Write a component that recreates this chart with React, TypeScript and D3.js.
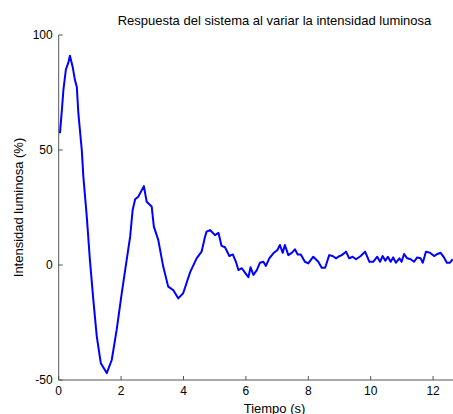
import React from "react";
import {scaleLinear, line} from "d3";

// time (s)
const tiempo = [
  0.04, 0.10, 0.15, 0.23, 0.31, 0.36, 0.45, 0.52, 0.58, 0.63, 0.68, 0.74, 0.79, 0.90, 1.00,
  1.11, 1.22, 1.35, 1.54, 1.70, 1.86, 2.02, 2.13, 2.29, 2.37, 2.45, 2.55, 2.73, 2.82, 2.98,
  3.05, 3.19, 3.35, 3.51, 3.67, 3.83, 3.99, 4.21, 4.42, 4.58, 4.69, 4.74, 4.85, 5.01, 5.12,
  5.22, 5.33, 5.47, 5.58, 5.68, 5.76, 5.87, 5.97, 6.08, 6.15, 6.24, 6.35, 6.45, 6.56, 6.64,
  6.75, 6.88, 7.01, 7.09, 7.18, 7.25, 7.36, 7.47, 7.57, 7.66, 7.76, 7.89, 8.00, 8.16, 8.32,
  8.43, 8.54, 8.67, 8.78, 8.89, 8.96, 9.07, 9.21, 9.31, 9.42, 9.53, 9.68, 9.82, 9.96, 10.08,
  10.21, 10.30, 10.38, 10.47, 10.55, 10.64, 10.72, 10.81, 10.92, 10.99, 11.07, 11.17, 11.28,
  11.39, 11.49, 11.60, 11.67, 11.77, 11.90, 12.03, 12.14, 12.24, 12.35, 12.44, 12.54, 12.63
];

// intensidad (%)
const intensidad = [
  57.3, 67, 76, 85, 88, 91, 86, 80.4, 77.5, 66, 58.7, 50, 38.4, 21, 2.2,
  -15.2, -31, -42.7, -47, -41.3, -28, -12.3, -2.2, 12.3, 23.9, 28.6, 29.7, 34.3, 27.5, 25.4,
  16.7, 10.9, -0.7, -9.4, -10.9, -14.5, -12.3, -3.2, 2.9, 5.8, 12.3, 14.5, 15.2, 13, 14,
  8.3, 7.7, 3.9, 4.6, 1.4, -2.2, -1.4, -3.3, -5.3, -1, -4.3, -2.2, 1, 1.4, -0.4,
  2.9, 5.1, 6.5, 8.7, 5.3, 8.7, 4.3, 5.3, 6.8, 4.6, 4.6, 1.4, 0.7, 3.6, 1.4,
  -1.2, -1.2, 4.3, 3.9, 2.9, 3.6, 4.3, 5.8, 2.9, 3.6, 2.5, 3.9, 5.8, 1.4, 1.4,
  3.6, 1.4, 3.9, 1.9, 3.6, 1.4, 3.3, 1, 2.9, 1.4, 4.8, 2.9, 2.5,
  1.4, 3.3, 2.9, 1, 5.8, 5.3, 3.9, 4.8, 5.3, 3.3, 1, 1, 2.5
];

const xTicks = [0, 2, 4, 6, 8, 10, 12];
const yTicks = [-50, 0, 50, 100];

const titulo = "Respuesta del sistema al variar la intensidad luminosa";
const xLabel = "Tiempo (s)";
const yLabel = "Intensidad luminosa (%)";

export default function App() {
  const width = 453;
  const height = 414;
  const left = 58.7, right = 453, top = 35, bottom = 380;

  const xScale = scaleLinear().domain([0, (right - left) / 31.2]).range([left, right]);
  const yScale = scaleLinear().domain([-50, 100]).range([bottom, top]);

  const data = tiempo.map((t, i) => ({t, v: intensidad[i]}));
  const path = line<{t: number, v: number}>()
    .x(d => xScale(d.t))
    .y(d => yScale(d.v))(data);

  const font = "'Liberation Sans', Arial, sans-serif";
  const axisColor = "#555";

  return (
    <svg width={width} height={height}
         style={{position: 'fixed', left: 0, top: 0, background: 'white', fontFamily: font}}>
      <rect width={width} height={height} fill="white"/>
      <text x={274.5} y={25.3} fontSize={13} textAnchor="middle" fill="black">{titulo}</text>

      {/* axes */}
      <line x1={left} x2={left} y1={top} y2={bottom} stroke={axisColor}/>
      <line x1={left} x2={right} y1={bottom} y2={bottom} stroke={axisColor}/>

      {yTicks.map(v => (
        <g key={v} transform={`translate(${left}, ${yScale(v)})`}>
          <line x2={4} stroke={axisColor}/>
          <text x={-6} dy="0.35em" fontSize={12} textAnchor="end" fill="black">{v}</text>
        </g>
      ))}
      {xTicks.map(v => (
        <g key={v} transform={`translate(${xScale(v)}, ${bottom})`}>
          <line y2={-4} stroke={axisColor}/>
          <text y={15} fontSize={12} textAnchor="middle" fill="black">{v}</text>
        </g>
      ))}

      <path d={path || ""} fill="none" stroke="#0000ff" strokeWidth={2} strokeLinejoin="round"/>

      <text x={274.5} y={412.5} fontSize={13} textAnchor="middle" fill="black">{xLabel}</text>
      <text transform={`translate(22.5, 207.5) rotate(-90)`} fontSize={13} textAnchor="middle" fill="black">{yLabel}</text>
    </svg>
  );
}
